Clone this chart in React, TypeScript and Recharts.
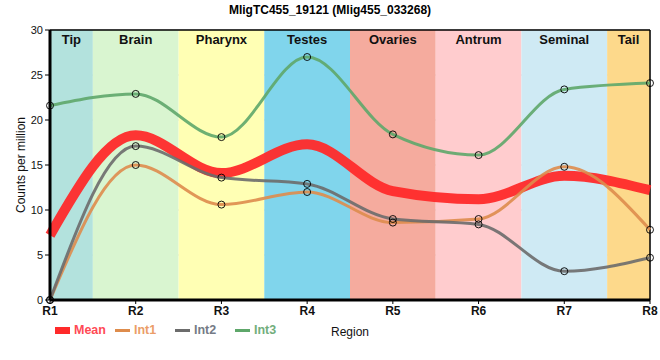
import React from "react"
import {
  ComposedChart,
  Line,
  XAxis,
  YAxis,
  CartesianGrid,
  ReferenceArea,
  ReferenceLine,
} from "recharts"

const REGIONS = ["R1", "R2", "R3", "R4", "R5", "R6", "R7", "R8"]
const MEAN = [7.2, 18.3, 14.1, 17.3, 12.1, 11.2, 13.8, 12.2]
const INT1 = [0, 15.0, 10.6, 12.0, 8.6, 9.0, 14.8, 7.8]
const INT2 = [0, 17.1, 13.6, 12.9, 9.0, 8.4, 3.2, 4.7]
const INT3 = [21.6, 22.9, 18.1, 27.0, 18.4, 16.1, 23.4, 24.1]
const Y_TICKS = [0, 5, 10, 15, 20, 25, 30]

const TISSUES = ["Tip", "Brain", "Pharynx", "Testes", "Ovaries", "Antrum", "Seminal", "Tail"]
const TISSUE_COLORS = ["#b3e2dd", "#d9f5d0", "#ffffb4", "#80d5ec", "#f5ab9e", "#ffccce", "#cfeaf4", "#fdd98b"]

const SERIES = [
  { key: "mean", name: "Mean", color: "#ff2a2a", text: "#ff4a55", width: 10 },
  { key: "int1", name: "Int1", color: "#de8c4c", text: "#eb9d68", width: 3 },
  { key: "int2", name: "Int2", color: "#6c6c6c", text: "#757b86", width: 3 },
  { key: "int3", name: "Int3", color: "#5ea76a", text: "#72ae7c", width: 3 },
]

const data = REGIONS.map((r, i) => ({
  x: i + 1,
  mean: MEAN[i],
  int1: INT1[i],
  int2: INT2[i],
  int3: INT3[i],
}))

const font = "'Liberation Sans', Arial, sans-serif"

export default function App() {
  return (
    <div style={{ position: "absolute", left: 0, top: 0, width: 660, height: 360, fontFamily: font, background: "#fff" }}>
      <div style={{ position: "absolute", top: 3, left: 0, width: 660, textAlign: "center", fontSize: 12, fontWeight: "bold" }}>
        MligTC455_19121 (Mlig455_033268)
      </div>
      <ComposedChart
        width={660}
        height={360}
        data={data}
        margin={{ top: 30, right: 10, left: 0, bottom: 20 }}
        style={{ fontFamily: font }}
      >
        {TISSUES.map((t, i) => (
          <ReferenceArea
            key={t}
            x1={i === 0 ? 1 : i + 0.5}
            x2={i === TISSUES.length - 1 ? 8 : i + 1.5}
            y1={0}
            y2={30}
            fill={TISSUE_COLORS[i]}
            fillOpacity={1}
            stroke="none"
            ifOverflow="visible"
            label={{ value: t, position: "insideTop", offset: 5, fontSize: 13, fontWeight: "bold", fill: "#111" }}
          />
        ))}
        <CartesianGrid stroke="#cccccc" strokeWidth={1} />
        <XAxis
          type="number"
          dataKey="x"
          domain={[1, 8]}
          ticks={[1, 2, 3, 4, 5, 6, 7, 8]}
          tickFormatter={(v) => REGIONS[v - 1]}
          height={40}
          axisLine={{ stroke: "#000", strokeWidth: 3 }}
          tickLine={{ stroke: "#000" }}
          tickSize={4}
          tick={{ fontSize: 12, fontWeight: "bold", fill: "#111" }}
          label={{ value: "Region", position: "insideBottom", offset: 4, fontSize: 12, fill: "#111" }}
        />
        <YAxis
          type="number"
          domain={[0, 30]}
          ticks={Y_TICKS}
          width={50}
          axisLine={{ stroke: "#000", strokeWidth: 3 }}
          tickLine={{ stroke: "#000" }}
          tickSize={5}
          tick={{ fontSize: 11, fill: "#111" }}
          label={{ value: "Counts per million", angle: -90, position: "insideLeft", offset: 21, fontSize: 12, fill: "#111", style: { textAnchor: "middle" } }}
        />
        <ReferenceLine y={30} stroke="#000" strokeWidth={1.5} ifOverflow="visible" />
        <ReferenceLine x={8} stroke="#000" strokeWidth={1.5} ifOverflow="visible" />
        {SERIES.map((s) => (
          <Line
            key={s.key}
            type="monotone"
            dataKey={s.key}
            name={s.name}
            stroke={s.color}
            strokeWidth={s.width}
            strokeOpacity={s.key === "mean" ? 0.95 : 0.9}
            dot={s.key === "mean" ? false : { r: 3.5, fill: "none", stroke: "#000", strokeWidth: 1 }}
            activeDot={false}
            isAnimationActive={false}
          />
        ))}
      </ComposedChart>
      <div style={{ position: "absolute", top: 323, left: 55, display: "flex", alignItems: "center", fontSize: 12.5, fontWeight: "bold" }}>
        {SERIES.map((s) => (
          <div key={s.key} style={{ display: "flex", alignItems: "center", width: 60 }}>
            <span style={{ display: "inline-block", width: 15, height: s.key === "mean" ? 7 : 3, background: s.color, marginRight: 4 }} />
            <span style={{ color: s.text }}>{s.name}</span>
          </div>
        ))}
      </div>
    </div>
  )
}
